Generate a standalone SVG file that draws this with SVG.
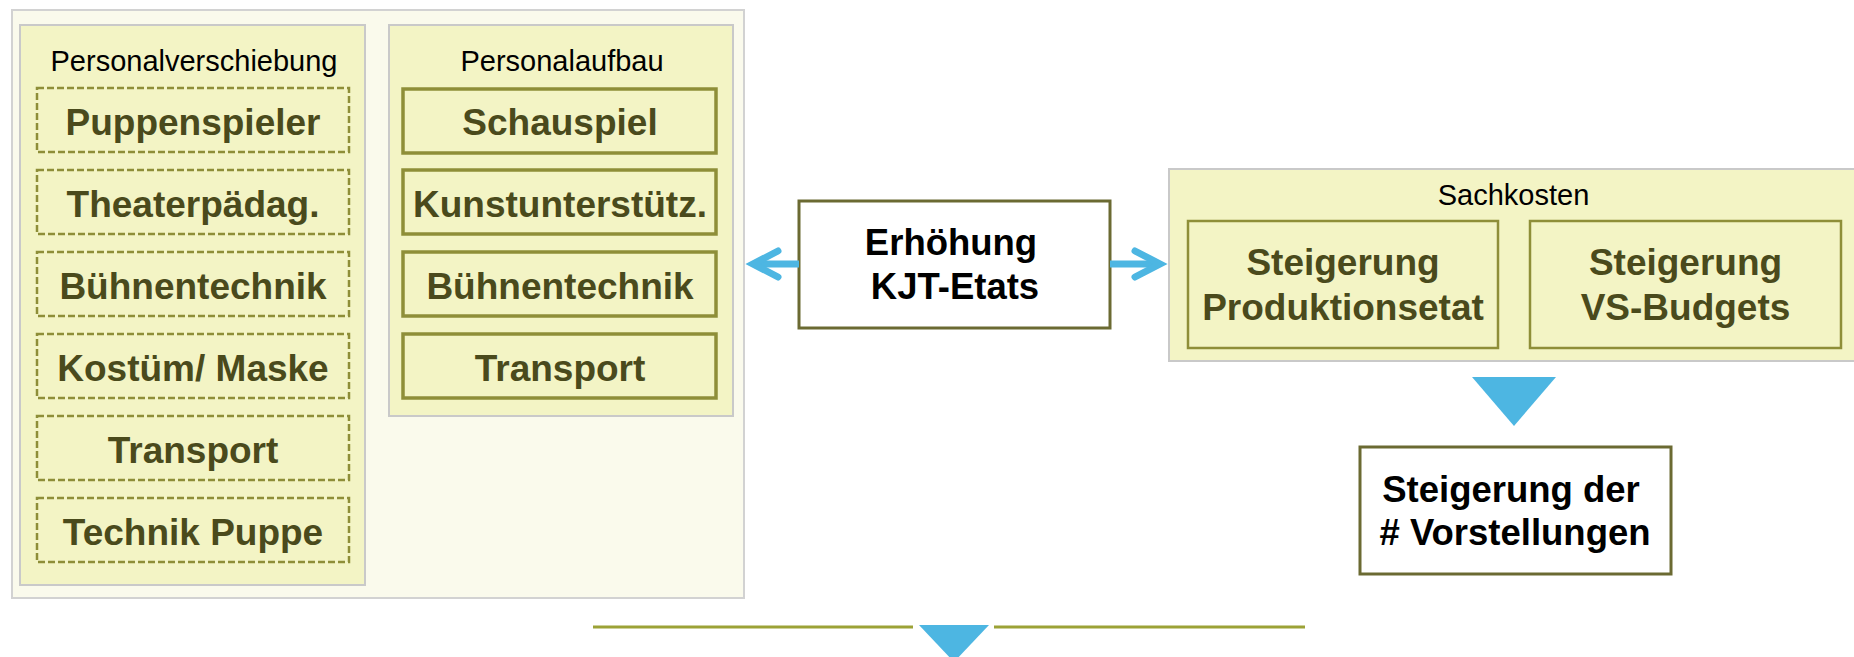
<svg xmlns="http://www.w3.org/2000/svg" width="1854" height="657" viewBox="0 0 1854 657">
  <style>
    .outer { fill: #FAFAEC; stroke: #D2D2D2; stroke-width: 2; }
    .panel { fill: #F3F4C5; stroke: #C9C9C9; stroke-width: 2; }
    .dashed { fill: #F3F4C5; stroke: #8E8E38; stroke-width: 2.5; stroke-dasharray: 7 3; }
    .solid { fill: #F3F4C5; stroke: #8E8E38; stroke-width: 3.5; }
    .thin { fill: #F3F4C5; stroke: #8E8E38; stroke-width: 2.5; }
    .plain { fill: #FFFFFF; stroke: #6B6A32; stroke-width: 3; }
    .cap { font-family: "Liberation Sans", Arial, sans-serif; font-size: 29px; fill: #000000; text-anchor: middle; }
    .item { font-family: "Liberation Sans", Arial, sans-serif; font-size: 37px; font-weight: bold; fill: #4A4A1C; text-anchor: middle; }
    .main { font-family: "Liberation Sans", Arial, sans-serif; font-size: 36.5px; font-weight: bold; fill: #000000; text-anchor: middle; }
    .shaft { stroke: #4DB6E2; stroke-width: 7; fill: none; }
    .tri { fill: #4DB6E2; }
    .rule { stroke: #9CA236; stroke-width: 3; fill: none; }
  </style>
  <defs>
    <marker id="chevron" markerUnits="userSpaceOnUse" orient="auto" viewBox="-32 -20 44 40" markerWidth="44" markerHeight="40" refX="0" refY="0">
      <path d="M-25,-13 L0,0 L-25,13" fill="none" stroke="#4DB6E2" stroke-width="7" stroke-linecap="round" stroke-linejoin="miter"/>
    </marker>
  </defs>

  <!-- staff block -->
  <g id="personal">
    <rect class="outer" x="12" y="10" width="732" height="588"/>
  </g>

  <g id="personalverschiebung">
    <rect class="panel" x="20" y="25" width="345" height="560"/>
    <text class="cap" x="194" y="71">Personalverschiebung</text>
    <g id="pv-puppenspieler">
      <rect class="dashed" x="37" y="88" width="312" height="64"/>
      <text class="item" x="193" y="134.5">Puppenspieler</text>
    </g>
    <g id="pv-theaterpaedag">
      <rect class="dashed" x="37" y="170" width="312" height="64"/>
      <text class="item" x="193" y="216.5">Theaterpädag.</text>
    </g>
    <g id="pv-buehnentechnik">
      <rect class="dashed" x="37" y="252" width="312" height="64"/>
      <text class="item" x="193" y="298.5">Bühnentechnik</text>
    </g>
    <g id="pv-kostuem">
      <rect class="dashed" x="37" y="334" width="312" height="64"/>
      <text class="item" x="193" y="380.5">Kostüm/ Maske</text>
    </g>
    <g id="pv-transport">
      <rect class="dashed" x="37" y="416" width="312" height="64"/>
      <text class="item" x="193" y="462.5">Transport</text>
    </g>
    <g id="pv-technik-puppe">
      <rect class="dashed" x="37" y="498" width="312" height="64"/>
      <text class="item" x="193" y="544.5">Technik Puppe</text>
    </g>
  </g>

  <g id="personalaufbau">
    <rect class="panel" x="389" y="25" width="344" height="391"/>
    <text class="cap" x="562" y="71">Personalaufbau</text>
    <g id="pa-schauspiel">
      <rect class="solid" x="403" y="89" width="313" height="64"/>
      <text class="item" x="560" y="135">Schauspiel</text>
    </g>
    <g id="pa-kunst">
      <rect class="solid" x="403" y="170" width="313" height="64"/>
      <text class="item" x="560" y="216.5">Kunstunterstütz.</text>
    </g>
    <g id="pa-buehnentechnik">
      <rect class="solid" x="403" y="252" width="313" height="64"/>
      <text class="item" x="560" y="298.5">Bühnentechnik</text>
    </g>
    <g id="pa-transport">
      <rect class="solid" x="403" y="334" width="313" height="64"/>
      <text class="item" x="560" y="380.5">Transport</text>
    </g>
  </g>

  <!-- central budget node -->
  <g id="erhoehung">
    <rect class="plain" x="799" y="201" width="311" height="127"/>
    <text class="main" x="951" y="255">Erhöhung</text>
    <text class="main" x="955" y="298.5">KJT-Etats</text>
  </g>

  <!-- material costs -->
  <g id="sachkosten">
    <rect class="panel" x="1169" y="169" width="700" height="192"/>
    <text class="cap" x="1513.5" y="205">Sachkosten</text>
    <g id="sk-produktion">
      <rect class="thin" x="1188" y="221" width="310" height="127"/>
      <text class="item" x="1343" y="275">Steigerung</text>
      <text class="item" x="1343" y="319.5">Produktionsetat</text>
    </g>
    <g id="sk-vs">
      <rect class="thin" x="1530" y="221" width="311" height="127"/>
      <text class="item" x="1685.5" y="275">Steigerung</text>
      <text class="item" x="1685.5" y="319.5">VS-Budgets</text>
    </g>
  </g>

  <g id="vorstellungen">
    <rect class="plain" x="1360" y="447" width="311" height="127"/>
    <text class="main" x="1511" y="502">Steigerung der</text>
    <text class="main" x="1515" y="545">#  Vorstellungen</text>
  </g>

  <!-- connectors -->
  <g id="connectors">
    <path class="shaft" d="M799,264 L753,264" marker-end="url(#chevron)"/>
    <path class="shaft" d="M1110,264 L1160,264" marker-end="url(#chevron)"/>
    <polygon class="tri" points="1472,377 1556,377 1514,426"/>
    <path class="rule" d="M593,627 L913,627 M994,627 L1305,627"/>
    <polygon class="tri" points="919,625 989,625 954,662"/>
  </g>
</svg>
